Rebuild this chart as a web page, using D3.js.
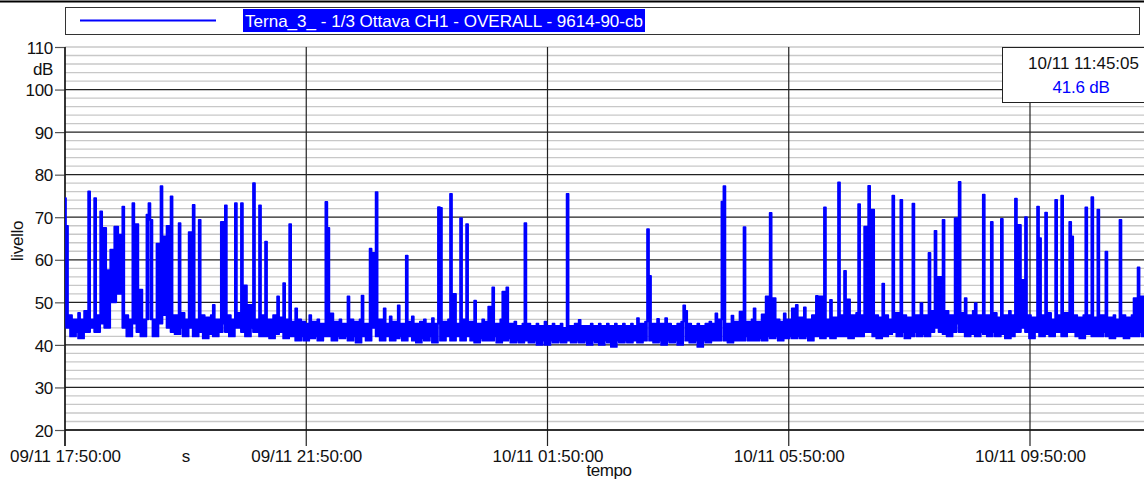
<!DOCTYPE html>
<html><head><meta charset="utf-8">
<script src="https://cdn.jsdelivr.net/npm/d3@7"></script>
<style>body{margin:0;background:#fff}svg{display:block}text{font-family:"Liberation Sans",Arial,sans-serif}</style>
</head><body><svg id="c" width="1144" height="481"></svg>
<script>
const seriesName = "Terna_3_ - 1/3 Ottava CH1 - OVERALL - 9614-90-cb";
const startTime = "2023-11-09T17:50:00";
const endTime = "2023-11-10T11:45:05";
const sampleStepMinutes = 2;
const levels = [
74.5,68,44,47,42,46,43,47.5,41.5,46,48,43,76.1,44,46,74.5,43,47,71.4,45,
67.5,44,57.6,62.4,50,67.8,67.8,52,65.9,72.5,44,47,42,46,73.3,45,68.4,43,53,42,
46,70.6,73.3,69.4,46,42,63.8,45,77.3,65.5,47,68,44,74.9,43,47,42.5,68.6,44,47.5,
42,46,66.5,44,72.9,42,46,69.4,43,47,41.5,46.5,42.5,47,49.4,42,46,43,68.9,45,
72.8,43,47,42,46,73.3,44,47.5,73.3,43,54,42,49.4,44,78,43,46,72.8,42,47,
64.3,42,46,41.5,47,42.5,51.4,43,46.5,54.5,41.5,46,68.4,42,45.5,48.6,41,46,42,45.5,
41,45,47,41.5,45.5,42,46,41,45,42,73.6,67.5,42,47.4,41,45.5,42,46,41.5,45,
42,51.4,41,46,42,45.5,40.5,46,51.6,42,45,41,62.6,61.6,44,75.9,42,46,41,48.6,
42,45,46.7,41,45.5,41.5,49.3,42,45,41,61,42,45.5,46.7,41,45,40.5,45.5,41.5,46,
41,45,42,46.3,40.5,45,72.4,72.2,41,45.5,42,46,75.5,41,52,42,45,69.8,41,46,
68.4,42,45.5,41,50.4,40.5,45,41.5,46,41,45.5,49,41,53.5,42,45,40.5,46,52.5,41,
53.5,41.5,45,40.5,45.5,41,44.5,40.5,45,68.6,41,45,40.5,44.5,41,45,40,44.5,41,45.5,
40,44.5,41,45,40.5,44.5,41,45,40.5,44,75.5,41,44.5,40.5,45,41,45.9,40.5,44.5,41,
44.5,40,45,41,44.5,40.5,45,40,44.5,41,45,40.5,44.5,39.5,45,41,44.5,40.5,45,41,
44.5,40.5,45,41,44.5,46.3,40.5,45,41,45.5,67.2,56.2,41,45,40.5,46.1,41,45,40,46.3,
41,45,40.5,44.5,41,45,40,45.5,49.3,48,41,45,40.5,44.5,41,45,39.5,44.5,41,45,
40.5,45.5,41,45,47.4,41,46,73.7,77.3,41,45,40.5,46.9,41,45.5,41,47.8,41,67.7,42,
45.5,41,46,48.6,41,45.5,41.5,47.2,41,51.4,42,71,41.5,51,42,46,41,45.5,47.4,41.5,
46,42,48.6,41.5,49.4,42,46.5,41.5,48.8,42,46,41,47,42,51.5,42,51.4,41.5,72.3,42,
46,50.6,41.5,46.5,42,78.2,42,47,57.4,42,50.7,41.5,47,42,47.5,73.1,42,47,67.8,43,
77.4,43,71.8,42,47,41.5,46.5,54.4,42,47,42.5,46,75.1,43,47.5,42,74.1,43,47,41.5,
46.5,42,73.2,43,47,42,49.8,42.5,47,42,61.6,43,48,66.8,44,56,43,69.4,42.5,48,
42,47,43,69.8,45,78.3,43,47.5,51,42,47,42.5,48,49.8,42,47,43,75.3,42.5,47,
42,68.9,43,47.5,42,46.5,69.6,42.5,47,41.5,48,42,47,74.4,43,68.2,44,55.3,70,43,
47,41.5,46.5,43,72.5,65.1,42,47,71.1,42.5,47.5,42,46,74.1,43,47,75.1,42,47.5,43,
68.9,65.5,43,47,42,46.5,41.5,47,72.3,42.5,47,74.7,42,46.5,71.8,42,47,43,61.9,42,
46.5,41.5,47,42,46,69.4,42,47,41.5,46.5,42,47,51,42,58.2,43,51.4,42
];
const xTickTimes = ["2023-11-09T17:50:00","2023-11-09T21:50:00","2023-11-10T01:50:00","2023-11-10T05:50:00","2023-11-10T09:50:00"];
const yTicksMajor = [20,30,40,50,60,70,80,90,100,110];
const yTicksMinor = [22,24,26,28,32,34,36,38,42,44,46,48,52,54,56,58,62,64,66,68,72,74,76,78,82,84,86,88,92,94,96,98,102,104,106,108];
const yUnit = "dB";
const yTitle = "livello";
const xTitle = "tempo";
const xUnit = "s";
const cursorTime = "10/11 11:45:05";
const cursorValue = "41.6 dB";

(function(){
const svg = d3.select("#c");
const pLeft = 65, pTop = 47, pBottom = 430;
const t0 = new Date(startTime), t1 = new Date(endTime);
const pxPerHour = 241.25 / 4;
const pRight = pLeft + (t1 - t0) / 3600000 * pxPerHour;
const x = d3.scaleTime().domain([t0, t1]).range([pLeft, pRight]);
const y = d3.scaleLinear().domain([20, 110]).range([pBottom, pTop]);
const fmt = d3.timeFormat("%d/%m %H:%M:%S");
const font = "'Liberation Sans',Arial,sans-serif";

svg.append("line").attr("x1",0).attr("x2",1144).attr("y1",1.5).attr("y2",1.5).attr("stroke","#000").attr("stroke-width",2);

svg.append("g").selectAll("line").data(yTicksMinor).join("line")
  .attr("x1",pLeft).attr("x2",1144).attr("y1",d=>y(d)).attr("y2",d=>y(d))
  .attr("stroke","#c8c8c8").attr("stroke-width",1.3);
svg.append("g").selectAll("line").data(yTicksMajor.filter(d=>d!==110)).join("line")
  .attr("x1",pLeft).attr("x2",1144).attr("y1",d=>y(d)).attr("y2",d=>y(d))
  .attr("stroke","#222").attr("stroke-width",1.2);
svg.append("line").attr("x1",pLeft).attr("x2",1144).attr("y1",y(110)).attr("y2",y(110)).attr("stroke","#c8c8c8").attr("stroke-width",1.3);
const xt = xTickTimes.map(s=>new Date(s));
svg.append("g").selectAll("line").data(xt).join("line")
  .attr("x1",d=>x(d)).attr("x2",d=>x(d)).attr("y1",pTop).attr("y2",pBottom+16)
  .attr("stroke","#222").attr("stroke-width",1.2);

const yAxis = d3.axisLeft(y).tickValues(yTicksMajor).tickSize(10).tickPadding(2).tickFormat(d3.format("d"));
const gy = svg.append("g").attr("transform",`translate(${pLeft},0)`).call(yAxis);
gy.select(".domain").remove();
gy.selectAll(".tick line").attr("stroke","#555").attr("stroke-width",1.2);
gy.selectAll(".tick text").attr("font-size",17).attr("letter-spacing",-0.3).attr("fill","#111").attr("dy","0.36em")
  .attr("font-family",font);
svg.append("line").attr("x1",pLeft).attr("x2",pLeft).attr("y1",pTop).attr("y2",pBottom+16).attr("stroke","#111").attr("stroke-width",1.3);
svg.append("line").attr("x1",pLeft).attr("x2",1144).attr("y1",pBottom).attr("y2",pBottom).attr("stroke","#111").attr("stroke-width",1.5);

const xAxis = d3.axisBottom(x).tickValues(xt).tickSize(0).tickPadding(0).tickFormat(fmt);
const gx = svg.append("g").attr("transform",`translate(0,${pBottom})`).call(xAxis);
gx.select(".domain").remove();
gx.selectAll(".tick text").attr("font-size",17).attr("letter-spacing",-0.1).attr("fill","#111")
  .attr("y",32).attr("dy",0).attr("font-family",font);

svg.append("text").attr("x",53).attr("y",75).attr("text-anchor","end").attr("font-size",17).attr("letter-spacing",-0.4).attr("fill","#111").text(yUnit);
svg.append("text").attr("transform","translate(23,241) rotate(-90)").attr("text-anchor","middle").attr("font-size",17).attr("letter-spacing",-0.3).attr("fill","#111").text(yTitle);
svg.append("text").attr("x",186).attr("y",462).attr("text-anchor","middle").attr("font-size",17).attr("fill","#111").text(xUnit);
svg.append("text").attr("x",609).attr("y",476).attr("text-anchor","middle").attr("font-size",17).attr("letter-spacing",-0.4).attr("fill","#111").text(xTitle);

// dense level trace: each sample drawn as a column from the lowest nearby reading up to its own reading
svg.append("clipPath").attr("id","pc").append("rect").attr("x",pLeft).attr("y",pTop).attr("width",1144-pLeft).attr("height",pBottom-pTop);
const n = levels.length;
const cols = levels.map((v,i)=>{
  const p = levels[Math.max(0,i-1)], q = levels[Math.min(n-1,i+1)];
  return {t:new Date(t0.getTime()+i*sampleStepMinutes*60000), lo:Math.min(p,v,q), hi:Math.max(v, Math.min(p,q))};
});
svg.append("path").datum(cols).attr("clip-path","url(#pc)")
  .attr("fill","#0000ff").attr("stroke","#0000ff").attr("stroke-width",1.7).attr("stroke-linejoin","round")
  .attr("d", d3.area().curve(d3.curveStep).x(d=>x(d.t)).y0(d=>y(d.lo)).y1(d=>y(d.hi)));

svg.append("rect").attr("x",65.5).attr("y",7.5).attr("width",1074).attr("height",27).attr("fill","#fff").attr("stroke","#333").attr("stroke-width",1);
svg.append("line").attr("x1",80).attr("x2",216).attr("y1",20.5).attr("y2",20.5).attr("stroke","#0000ff").attr("stroke-width",2);
svg.append("rect").attr("x",243).attr("y",9).attr("width",402).attr("height",23).attr("fill","#0000ff");
svg.append("text").attr("x",245).attr("y",27).attr("font-size",17).attr("fill","#fff")
  .attr("textLength",398).attr("lengthAdjust","spacingAndGlyphs").text(seriesName);

svg.append("rect").attr("x",1002.5).attr("y",47.5).attr("width",150).attr("height",55).attr("fill","#fff").attr("stroke","#222").attr("stroke-width",1);
svg.append("text").attr("x",1139).attr("y",69).attr("text-anchor","end").attr("font-size",17).attr("letter-spacing",0).attr("fill","#111").text(cursorTime);
svg.append("text").attr("x",1081).attr("y",93).attr("text-anchor","middle").attr("font-size",17).attr("letter-spacing",-0.2).attr("fill","#0000ff").text(cursorValue);
})();
</script></body></html>
